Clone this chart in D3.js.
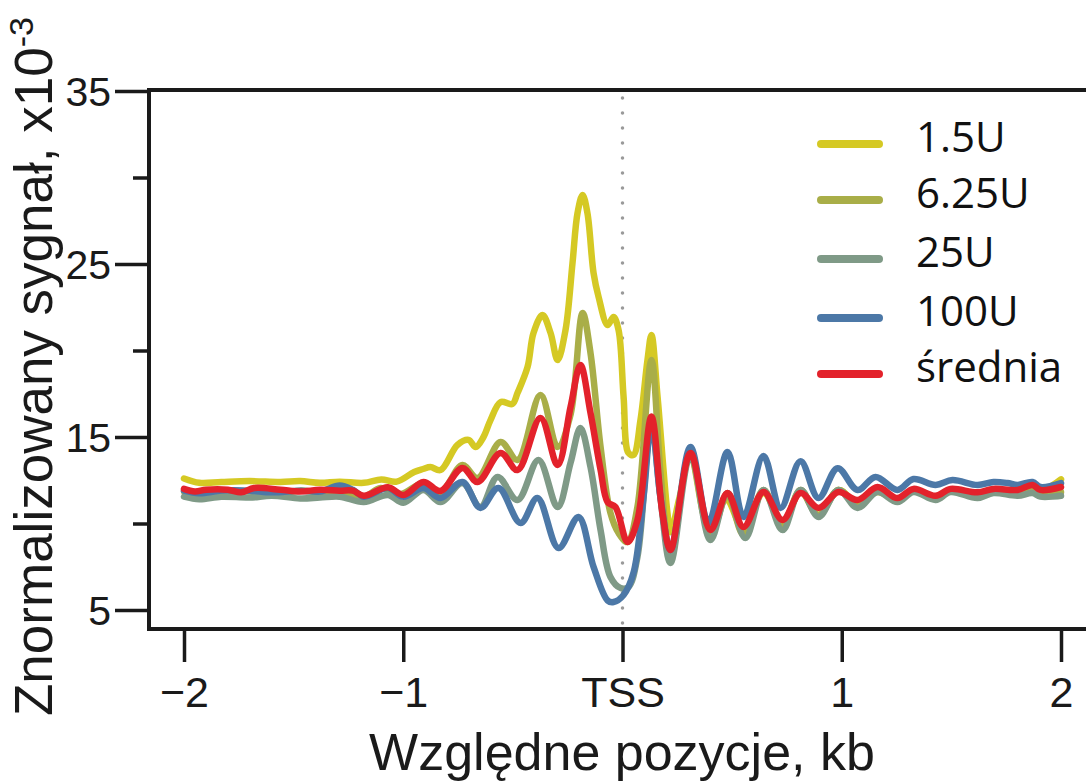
<!DOCTYPE html>
<html>
<head>
<meta charset="utf-8">
<script src="https://cdn.jsdelivr.net/npm/d3@7"></script>
<style>
  body { margin: 0; background: #fff; }
  svg { display: block; }
</style>
</head>
<body>
<svg id="chart" width="1086" height="783"></svg>
<script>

// series: [position kb, signal x10^-3]
var seriesNames = ["1.5U", "6.25U", "25U", "100U", "średnia"];
var seriesColors = ["#d5c924", "#a9ae48", "#7f9a87", "#4c78a7", "#e3222b"];

var yellow15 = [[-2.0,12.6],[-1.93,12.35],[-1.83,12.4],[-1.7,12.45],[-1.56,12.4],[-1.47,12.45],[-1.38,12.35],[-1.29,12.42],
  [-1.18,12.35],[-1.1,12.55],[-1.03,12.42],[-0.95,12.98],[-0.91,13.15],[-0.876,13.27],[-0.83,13.09],[-0.753,14.54],
  [-0.702,14.83],[-0.67,14.42],[-0.634,15.0],[-0.602,15.98],[-0.556,17.02],[-0.502,16.91],[-0.479,17.54],[-0.433,19.05],
  [-0.406,21.01],[-0.365,22.05],[-0.328,21.01],[-0.296,19.45],[-0.26,21.18],[-0.228,25.06],[-0.205,27.95],[-0.182,28.99],
  [-0.16,27.95],[-0.132,24.48],[-0.109,23.09],[-0.068,21.47],[-0.041,21.94],[-0.018,21.18],[0.005,17.31],[0.027,14.08],
  [0.05,13.96],[0.082,15.98],[0.114,19.45],[0.132,20.9],[0.16,17.31],[0.205,10.61],[0.219,9.5],[0.26,11.5],[0.31,13.96],
  [0.392,9.91],[0.474,11.36],[0.552,9.62],[0.643,11.76],[0.73,10.09],[0.812,11.82],[0.894,10.49],[0.985,11.94],
  [1.072,11.18],[1.163,11.82],[1.254,11.36],[1.327,11.88],[1.428,11.53],[1.496,11.88],[1.619,11.7],[1.692,11.94],
  [1.802,11.82],[1.87,12.11],[1.906,11.94],[1.96,12.2],[2.0,12.55]];

var olive625 = [[-2.0,11.85],[-1.93,11.75],[-1.83,11.9],[-1.7,11.85],[-1.56,11.75],[-1.47,11.9],[-1.38,11.8],[-1.29,11.85],
  [-1.18,11.55],[-1.104,12.05],[-1.013,11.7],[-0.908,12.34],[-0.83,11.82],[-0.73,13.38],[-0.661,12.63],[-0.556,14.71],
  [-0.479,13.67],[-0.374,17.43],[-0.296,14.42],[-0.237,16.29],[-0.182,22.17],[-0.146,19.86],[-0.1,14.42],[-0.055,10.61],
  [-0.018,9.45],[0.023,8.93],[0.068,10.95],[0.132,19.45],[0.173,13.0],[0.219,8.18],[0.31,14.13],[0.401,9.34],
  [0.479,11.65],[0.552,9.34],[0.643,11.94],[0.73,9.91],[0.812,11.94],[0.894,10.49],[0.985,11.94],[1.072,11.07],
  [1.163,11.94],[1.254,11.36],[1.327,11.94],[1.428,11.53],[1.496,11.94],[1.619,11.65],[1.692,11.94],[1.802,11.76],
  [1.87,12.05],[1.906,11.82],[2.0,11.82]];

var grey25 = [[-2.0,11.55],[-1.93,11.4],[-1.83,11.55],[-1.7,11.5],[-1.6,11.6],[-1.47,11.45],[-1.38,11.5],[-1.29,11.55],
  [-1.18,11.24],[-1.07,11.65],[-1.0,11.2],[-0.908,11.94],[-0.83,11.24],[-0.73,12.34],[-0.648,10.95],[-0.57,12.69],
  [-0.479,11.36],[-0.383,13.67],[-0.296,10.95],[-0.237,13.5],[-0.192,15.52],[-0.146,13.27],[-0.1,9.62],[-0.055,6.91],
  [-0.009,6.27],[0.027,6.33],[0.068,8.06],[0.114,14.42],[0.132,16.0],[0.173,11.5],[0.219,7.72],[0.31,13.96],
  [0.401,9.05],[0.479,11.76],[0.56,9.16],[0.643,11.94],[0.73,9.62],[0.812,11.94],[0.894,10.38],[0.985,11.94],
  [1.072,10.9],[1.163,11.82],[1.254,11.24],[1.327,11.82],[1.428,11.36],[1.496,11.82],[1.619,11.47],[1.692,11.76],
  [1.802,11.6],[1.87,11.76],[1.906,11.55],[2.0,11.6]];

var blue100 = [[-2.0,11.9],[-1.93,11.75],[-1.83,11.9],[-1.7,11.9],[-1.6,11.8],[-1.47,11.9],[-1.38,11.85],[-1.29,12.2],
  [-1.23,11.95],[-1.18,11.55],[-1.07,12.05],[-1.0,11.55],[-0.908,12.05],[-0.83,11.47],[-0.73,12.4],[-0.648,10.9],
  [-0.566,12.05],[-0.465,10.03],[-0.388,11.47],[-0.292,8.58],[-0.201,10.38],[-0.132,7.49],[-0.068,5.55],[-0.041,5.46],
  [0.005,5.87],[0.05,7.14],[0.096,11.53],[0.132,15.81],[0.173,11.53],[0.219,8.47],[0.31,14.42],[0.392,10.03],
  [0.479,14.13],[0.552,10.38],[0.643,13.9],[0.721,10.9],[0.812,13.6],[0.894,11.47],[0.981,13.2],[1.072,11.94],
  [1.154,12.69],[1.254,11.94],[1.327,12.57],[1.428,12.23],[1.505,12.51],[1.619,12.23],[1.692,12.4],[1.756,12.34],
  [1.802,12.23],[1.87,12.4],[1.906,12.11],[2.0,12.34]];

var sredniaRed = [[-2.0,12.0],[-1.95,11.85],[-1.9,11.95],[-1.8,11.95],[-1.74,11.8],[-1.68,12.05],[-1.56,11.95],[-1.47,11.85],
  [-1.38,11.95],[-1.29,11.9],[-1.23,11.9],[-1.18,11.6],[-1.07,12.1],[-0.999,11.65],[-0.908,12.4],[-0.83,11.88],
  [-0.73,13.21],[-0.661,12.4],[-0.556,14.08],[-0.479,13.09],[-0.374,16.1],[-0.296,13.38],[-0.237,16.73],[-0.192,19.16],
  [-0.146,16.39],[-0.1,13.1],[-0.068,11.24],[-0.032,10.95],[0.023,8.93],[0.068,10.2],[0.132,16.18],[0.182,10.61],
  [0.219,8.47],[0.31,14.08],[0.401,9.62],[0.479,11.76],[0.552,9.8],[0.643,11.82],[0.73,10.2],[0.812,11.76],
  [0.894,10.9],[0.985,11.82],[1.072,11.36],[1.163,12.11],[1.254,11.47],[1.327,12.0],[1.428,11.6],[1.496,12.0],
  [1.619,11.8],[1.692,12.0],[1.802,11.94],[1.87,12.23],[1.906,11.94],[2.0,12.11]];

var seriesData = [yellow15, olive625, grey25, blue100, sredniaRed];

var xTicks = [-2, -1, 0, 1, 2];
var xTickLabels = ["\u22122", "\u22121", "TSS", "1", "2"];
var yTicks = [5, 15, 25, 35];
var yMinorTicks = [10, 20, 30];

var svg = d3.select("#chart");

var x = d3.scaleLinear().domain([-2, 2]).range([184, 1061]);
var y = d3.scaleLinear().domain([5, 35]).range([610, 91]);

var frameTop = 90, frameBottom = 629, frameLeft = 149;

// y ticks
var yAxis = svg.append("g")
    .attr("transform", "translate(" + frameLeft + ",0)")
    .call(d3.axisLeft(y).tickValues(yTicks).tickSize(34).tickPadding(4));
yAxis.select(".domain").remove();
yAxis.selectAll("line").attr("stroke", "#1a1a1a").attr("stroke-width", 3.5);
yAxis.selectAll("text")
    .attr("font-family", "'Liberation Sans', Arial, sans-serif")
    .attr("font-size", 41)
    .attr("fill", "#1a1a1a")
    .attr("dy", "0.36em");

var yMinor = svg.append("g")
    .attr("transform", "translate(" + frameLeft + ",0)")
    .call(d3.axisLeft(y).tickValues(yMinorTicks).tickSize(16).tickFormat(""));
yMinor.select(".domain").remove();
yMinor.selectAll("line").attr("stroke", "#1a1a1a").attr("stroke-width", 3.5);

// x ticks
var xAxis = svg.append("g")
    .attr("transform", "translate(0," + frameBottom + ")")
    .call(d3.axisBottom(x).tickValues(xTicks).tickSize(33).tickPadding(14)
        .tickFormat(function(d, i) { return xTickLabels[i]; }));
xAxis.select(".domain").remove();
xAxis.selectAll("line").attr("stroke", "#1a1a1a").attr("stroke-width", 3.5);
xAxis.selectAll("text")
    .attr("font-family", "'Liberation Sans', Arial, sans-serif")
    .attr("font-size", 43)
    .attr("fill", "#1a1a1a");

// frame (right side runs off the page)
svg.append("path")
    .attr("d", "M1100," + frameTop + "H" + frameLeft + "V" + frameBottom + "H1100")
    .attr("fill", "none")
    .attr("stroke", "#1a1a1a")
    .attr("stroke-width", 4);

// dotted TSS line
svg.append("line")
    .attr("x1", x(0)).attr("x2", x(0))
    .attr("y1", 98).attr("y2", 624)
    .attr("stroke", "#9a9a9a")
    .attr("stroke-width", 3.5)
    .attr("stroke-linecap", "round")
    .attr("stroke-dasharray", "0,15");

// curves
var line = d3.line()
    .x(function(d) { return x(d[0]); })
    .y(function(d) { return y(d[1]); })
    .curve(d3.curveCatmullRom.alpha(0.5));

seriesData.forEach(function(s, i) {
    svg.append("path")
        .datum(s)
        .attr("d", line)
        .attr("fill", "none")
        .attr("stroke", seriesColors[i])
        .attr("stroke-width", 6.5)
        .attr("stroke-linejoin", "round")
        .attr("stroke-linecap", "round");
});

// legend
var legendY = [144, 200, 259, 318, 374];
var legend = svg.append("g");
seriesNames.forEach(function(name, i) {
    legend.append("line")
        .attr("x1", 821).attr("x2", 879)
        .attr("y1", legendY[i]).attr("y2", legendY[i])
        .attr("stroke", seriesColors[i])
        .attr("stroke-width", 8)
        .attr("stroke-linecap", "round");
    legend.append("text")
        .attr("x", 916)
        .attr("y", legendY[i] + 8)
        .attr("font-family", "'Open Sans', sans-serif")
        .attr("font-size", 42)
        .attr("fill", "#111")
        .text(name);
});

// axis titles
svg.append("text")
    .attr("x", 622)
    .attr("y", 770)
    .attr("text-anchor", "middle")
    .attr("font-family", "'Liberation Sans', Arial, sans-serif")
    .attr("font-size", 52)
    .attr("fill", "#1a1a1a")
    .text("Względne pozycje, kb");

var yTitle = svg.append("text")
    .attr("transform", "translate(52,716) rotate(-90)")
    .attr("font-family", "'Liberation Sans', Arial, sans-serif")
    .attr("font-size", 53)
    .attr("fill", "#1a1a1a");
yTitle.append("tspan").text("Znormalizowany sygnał, x10");
yTitle.append("tspan").attr("font-size", 34).attr("dy", "-0.55em").text("-3");

</script>
</body>
</html>
